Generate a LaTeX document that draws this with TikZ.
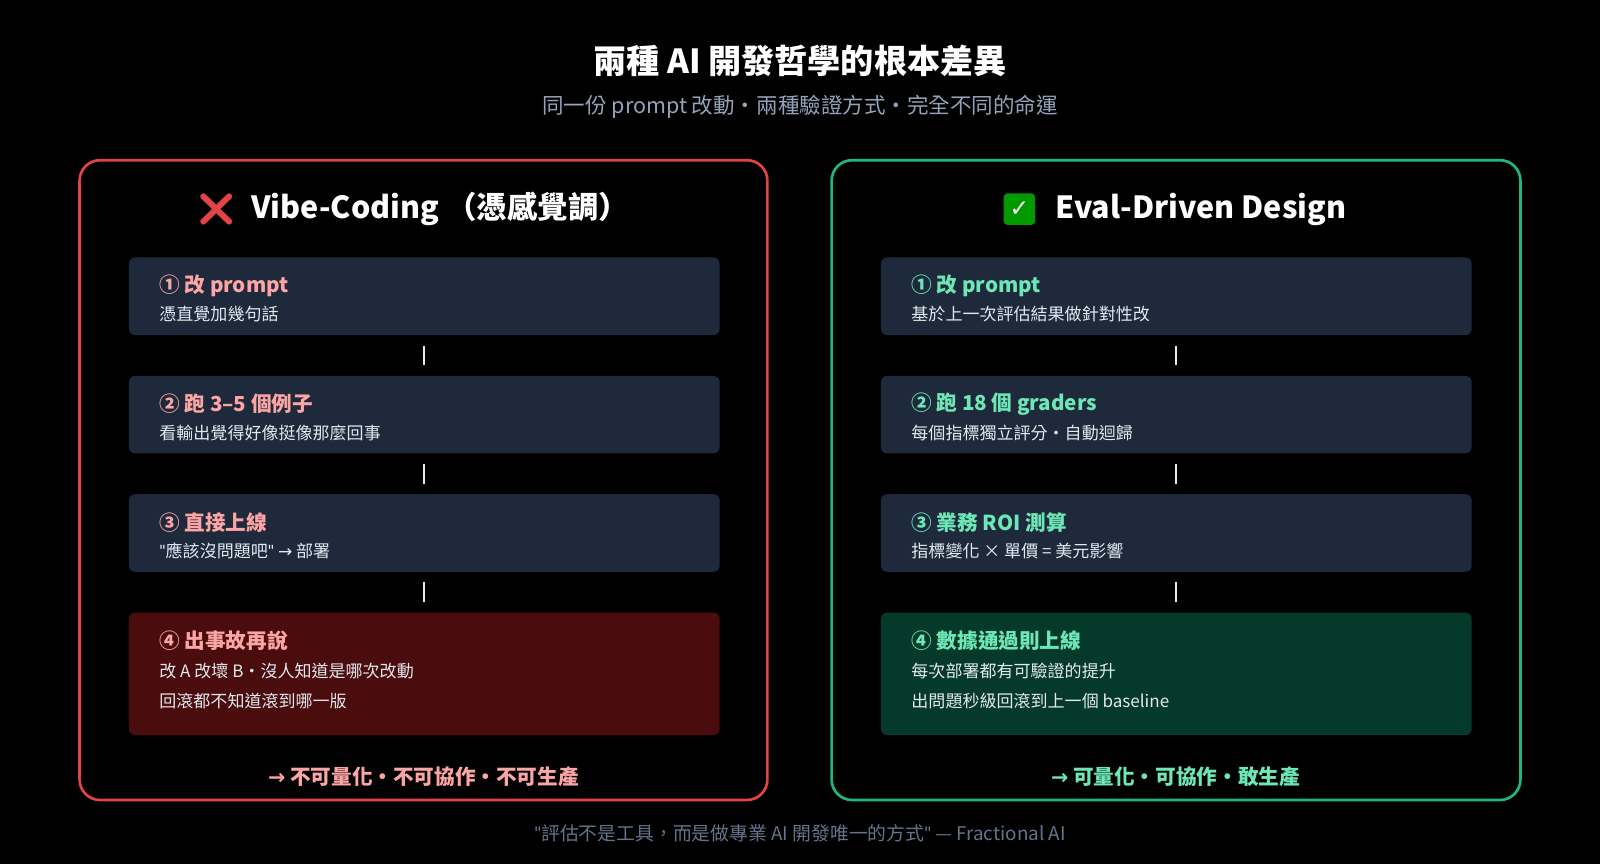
\documentclass[tikz,border=0pt]{standalone}
\usepackage{fontspec}
\setmainfont{Noto Sans CJK TC}
\newfontfamily\emojifont{Noto Emoji}
\newfontfamily\symfont{DejaVu Sans}
\newfontfamily\latinfont{Lato}
\usetikzlibrary{positioning}
\definecolor{bg}{HTML}{000000}
\definecolor{redline}{HTML}{E04444}
\definecolor{greenline}{HTML}{1FB584}
\definecolor{stepfill}{HTML}{1E293B}
\definecolor{redfill}{HTML}{4A0C0C}
\definecolor{greenfill}{HTML}{053A2A}
\definecolor{pinktext}{HTML}{FCA5A5}
\definecolor{greentext}{HTML}{6EE7B7}
\definecolor{subtext}{HTML}{E2E8F0}
\definecolor{greytext}{HTML}{94A3B8}
\definecolor{quotetext}{HTML}{64748B}
\tikzset{
  panel/.style={draw=#1, line width=1.5pt, rounded corners=0.4cm, inner sep=0pt},
  stepbox/.style={fill=#1, rounded corners=0.12cm, inner sep=0pt, anchor=north west},
  steptitle/.style={anchor=west, text=#1, font=\fontsize{11.5}{14}\selectfont\bfseries},
  stepsub/.style={anchor=west, text=subtext, font=\fontsize{9.5}{12}\selectfont},
  tick/.style={draw=subtext, line width=1pt, shorten >=0.2cm, shorten <=0.2cm}
}
\begin{document}
\begin{tikzpicture}[x=0.02cm,y=-0.02cm]
\fill[bg] (0,0) rectangle (1568,847);
\useasboundingbox (0,0) rectangle (1568,847);

\node[text=white, font=\fontsize{18.5}{22}\selectfont\bfseries] (title) at (784,60) {兩種 AI 開發哲學的根本差異};
\node[text=greytext, font=\fontsize{12}{14}\selectfont] (subtitle) at (784,105) {同一份 prompt 改動・兩種驗證方式・完全不同的命運};

% left panel
\draw[panel=redline] (78,157) rectangle (752,784);
\node[text=redline, font=\emojifont\fontsize{18}{22}\selectfont] (xmark) at (212,205) {❌};
\node[anchor=west, text=white, font=\fontsize{17}{22}\selectfont\bfseries] (lhead) at (240,205) {Vibe-Coding （憑感覺調）};

\node[stepbox=stepfill, minimum width=11.58cm, minimum height=1.52cm] (l1) at (126,252) {};
\node[stepbox=stepfill, minimum width=11.58cm, minimum height=1.52cm] (l2) at (126,368) {};
\node[stepbox=stepfill, minimum width=11.58cm, minimum height=1.52cm] (l3) at (126,484) {};
\node[stepbox=redfill, minimum width=11.58cm, minimum height=2.4cm] (l4) at (126,600) {};

\node[steptitle=pinktext] (l1t) at (150,280) {① 改 prompt};
\node[stepsub] (l1s) at (150,308) {憑直覺加幾句話};
\node[steptitle=pinktext] (l2t) at (150,396) {② 跑 3–5 個例子};
\node[stepsub] (l2s) at (150,424) {看輸出覺得好像挺像那麼回事};
\node[steptitle=pinktext] (l3t) at (150,512) {③ 直接上線};
\node[stepsub] (l3s) at (150,540) {{\latinfont "}應該沒問題吧{\latinfont "} {\symfont →} 部署};
\node[steptitle=pinktext] (l4t) at (150,628) {④ 出事故再說};
\node[stepsub] (l4s) at (150,658) {改 A 改壞 B・沒人知道是哪次改動};
\node[stepsub] (l4u) at (150,687) {回滾都不知道滾到哪一版};

\foreach \from/\to in {l1/l2,l2/l3,l3/l4}
  \draw[tick] (\from.south) -- (\to.north);

\node[text=pinktext, font=\fontsize{11.5}{14}\selectfont\bfseries] (lfoot) at (415,761) {{\symfont →} 不可量化・不可協作・不可生產};

% right panel
\draw[panel=greenline] (815,157) rectangle (1490,784);
\node[fill=green!60!black, rounded corners=0.08cm, minimum size=0.62cm, inner sep=0pt,
      text=white, font=\symfont\bfseries\fontsize{13}{14}\selectfont] (cmark) at (999,205) {✓};
\node[anchor=west, text=white, font=\fontsize{17}{22}\selectfont\bfseries] (rhead) at (1028,205) {Eval-Driven Design};

\node[stepbox=stepfill, minimum width=11.58cm, minimum height=1.52cm] (r1) at (863,252) {};
\node[stepbox=stepfill, minimum width=11.58cm, minimum height=1.52cm] (r2) at (863,368) {};
\node[stepbox=stepfill, minimum width=11.58cm, minimum height=1.52cm] (r3) at (863,484) {};
\node[stepbox=greenfill, minimum width=11.58cm, minimum height=2.4cm] (r4) at (863,600) {};

\node[steptitle=greentext] (r1t) at (887,280) {① 改 prompt};
\node[stepsub] (r1s) at (887,308) {基於上一次評估結果做針對性改};
\node[steptitle=greentext] (r2t) at (887,396) {② 跑 18 個 graders};
\node[stepsub] (r2s) at (887,424) {每個指標獨立評分・自動迴歸};
\node[steptitle=greentext] (r3t) at (887,512) {③ 業務 ROI 測算};
\node[stepsub] (r3s) at (887,540) {指標變化 × 單價 = 美元影響};
\node[steptitle=greentext] (r4t) at (887,628) {④ 數據通過則上線};
\node[stepsub] (r4s) at (887,658) {每次部署都有可驗證的提升};
\node[stepsub] (r4u) at (887,687) {出問題秒級回滾到上一個 baseline};

\foreach \from/\to in {r1/r2,r2/r3,r3/r4}
  \draw[tick] (\from.south) -- (\to.north);

\node[text=greentext, font=\fontsize{11.5}{14}\selectfont\bfseries] (rfoot) at (1152,761) {{\symfont →} 可量化・可協作・敢生產};

\node[text=quotetext, font=\fontsize{10.5}{13}\selectfont] (quote) at (784,817) {{\latinfont "}評估不是工具，而是做專業 AI 開發唯一的方式{\latinfont "} — Fractional AI};
\end{tikzpicture}
\end{document}
